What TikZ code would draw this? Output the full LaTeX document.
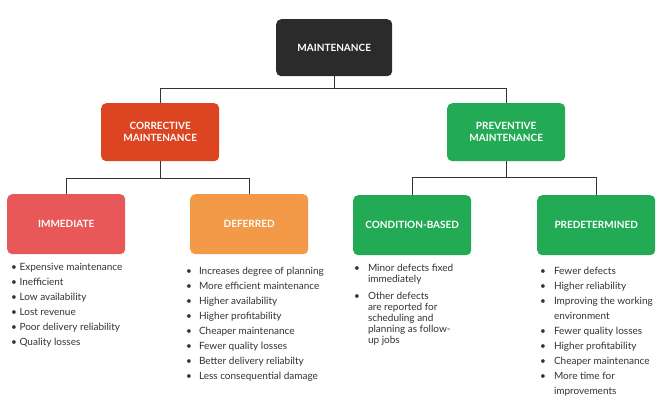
\documentclass[tikz,border=0pt]{standalone}
\usepackage{fontspec}
\setmainfont{Lato}
\begin{document}
\begin{tikzpicture}[x=1pt,y=-1pt,
 box/.style={rounded corners=5pt,minimum width=118pt,minimum height=58pt,text=white,font=\fontsize{10}{12}\selectfont\bfseries,align=center,anchor=north west},
 ln/.style={draw=black!80,line width=0.9pt},
 lst/.style={anchor=north west,font=\fontsize{10}{15}\selectfont,text=black!80,inner sep=0pt,align=left}]
\useasboundingbox[fill=white] (0,0) rectangle (663,401);
\definecolor{dk}{HTML}{2B2B2B}\definecolor{rd}{HTML}{DD4422}\definecolor{gr}{HTML}{22AA55}
\definecolor{pk}{HTML}{E85858}\definecolor{or}{HTML}{F29A48}
\node[box,fill=dk,minimum width=116pt,minimum height=57pt] (m) at (276,19) {MAINTENANCE};
\node[box,fill=rd] (c) at (101,103) {CORRECTIVE\\MAINTENANCE};
\node[box,fill=gr] (p) at (447,103) {PREVENTIVE\\MAINTENANCE};
\node[box,fill=pk,minimum height=60pt] (i) at (7,194) {IMMEDIATE};
\node[box,fill=or,minimum height=60pt] (d) at (190,194) {DEFERRED};
\node[box,fill=gr,minimum height=60pt] (cb) at (353,195) {CONDITION-BASED};
\node[box,fill=gr,minimum height=60pt] (pd) at (537,195) {PREDETERMINED};
\draw[ln] (m.south) -- ++(0,12) -| (c.north);
\draw[ln] (m.south) -- ++(0,12) -| (p.north);
\draw[ln] (c.south) -- ++(0,17) -| (i.north);
\draw[ln] (c.south) -- ++(0,17) -| (d.north);
\draw[ln] (p.south) -- ++(0,16) -| (cb.north);
\draw[ln] (p.south) -- ++(0,16) -| (pd.north);
\node[lst] (li) at (11,263) {• Expensive maintenance\\• Inefficient\\• Low availability\\• Lost revenue\\• Poor delivery reliability\\• Quality losses};
\node[lst] (ld) at (186,264) {\begin{tabular}{@{}l@{\hspace{7pt}}l@{}}•&Increases degree of planning\\•&More efficient maintenance\\•&Higher availability\\•&Higher profitability\\•&Cheaper maintenance\\•&Fewer quality losses\\•&Better delivery reliabilty\\•&Less consequential damage\end{tabular}};
\node[lst,font=\fontsize{10}{11}\selectfont] (lc) at (354,264) {\begin{tabular}{@{}l@{\hspace{8pt}}l@{}}•&Minor defects fixed\\&immediately\\[6pt]•&Other defects\\&are reported for\\&scheduling and\\&planning as follow-\\&up jobs\end{tabular}};
\node[lst] (lp) at (540,264) {\begin{tabular}{@{}l@{\hspace{8pt}}l@{}}•&Fewer defects\\•&Higher reliability\\•&Improving the working\\&environment\\•&Fewer quality losses\\•&Higher profitability\\•&Cheaper maintenance\\•&More time for\\&improvements\end{tabular}};
\end{tikzpicture}
\end{document}
